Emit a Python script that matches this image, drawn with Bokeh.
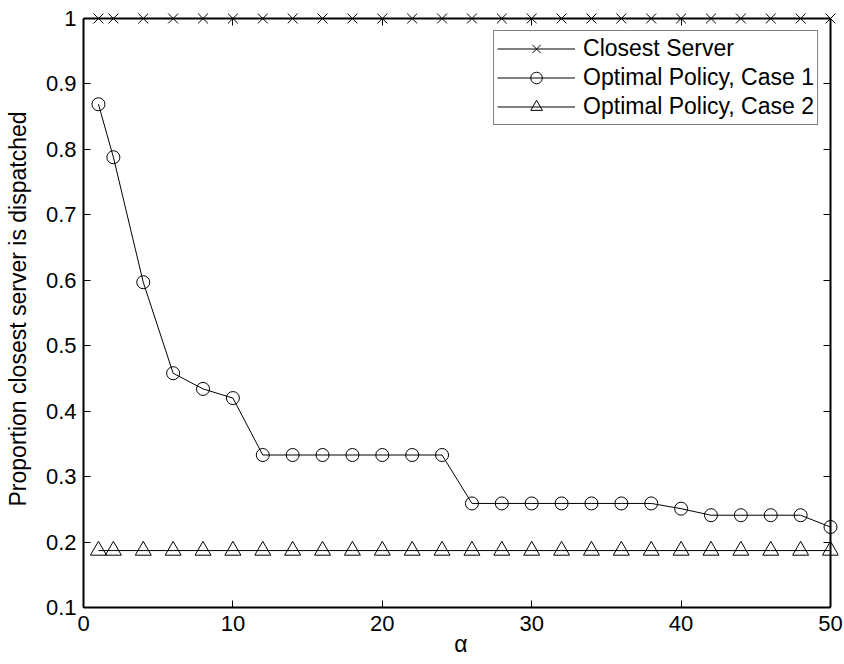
from bokeh.plotting import figure
from bokeh.models import Range1d, FixedTicker, LinearAxis
from bokeh.embed import file_html
from bokeh.resources import INLINE

alpha = [1, 2, 4, 6, 8, 10, 12, 14, 16, 18, 20, 22, 24, 26, 28, 30, 32, 34, 36, 38, 40, 42, 44, 46, 48, 50]
closest_server = [1.0, 1.0, 1.0, 1.0, 1.0, 1.0, 1.0, 1.0, 1.0, 1.0, 1.0, 1.0, 1.0,
                  1.0, 1.0, 1.0, 1.0, 1.0, 1.0, 1.0, 1.0, 1.0, 1.0, 1.0, 1.0, 1.0]
case1 = [0.869, 0.788, 0.597, 0.458, 0.434, 0.420, 0.333, 0.333, 0.333, 0.333, 0.333, 0.333, 0.333,
         0.259, 0.259, 0.259, 0.259, 0.259, 0.259, 0.259, 0.251, 0.241, 0.241, 0.241, 0.241, 0.223]
case2 = [0.187, 0.187, 0.187, 0.187, 0.187, 0.187, 0.187, 0.187, 0.187, 0.187, 0.187, 0.187, 0.187,
         0.187, 0.187, 0.187, 0.187, 0.187, 0.187, 0.187, 0.187, 0.187, 0.187, 0.187, 0.187, 0.187]
x_ticks = [0, 10, 20, 30, 40, 50]
y_ticks = [0.1, 0.2, 0.3, 0.4, 0.5, 0.6, 0.7, 0.8, 0.9, 1.0]
x_lim = (0, 50)
y_lim = (0.1, 1.0)

FONT = "Liberation Sans"
TICK_FS = "22px"
LABEL_FS = "23px"

# frame is extended by a few pixels past the top/right axes so edge markers are not clipped
PAD = 8
AX_LEFT, AX_RIGHT, AX_TOP, AX_BOTTOM = 83, 830, 18, 607
x_end = x_lim[0] + (x_lim[1] - x_lim[0]) * (AX_RIGHT + PAD - AX_LEFT) / (AX_RIGHT - AX_LEFT)
y_end = y_lim[0] + (y_lim[1] - y_lim[0]) * (AX_BOTTOM - AX_TOP + PAD) / (AX_BOTTOM - AX_TOP)

p = figure(width=844, height=664, output_backend="svg", toolbar_location=None,
           x_range=Range1d(x_lim[0], x_end), y_range=Range1d(y_lim[0], y_end),
           min_border_left=AX_LEFT, min_border_right=844 - AX_RIGHT - PAD,
           min_border_top=AX_TOP - PAD, min_border_bottom=664 - AX_BOTTOM,
           x_axis_label="α", y_axis_label="Proportion closest server is dispatched")
p.grid.visible = False
p.outline_line_color = None
p.background_fill_color = "white"
p.border_fill_color = "white"

def style(ax, ticks, bounds, labels=True):
    ax.ticker = FixedTicker(ticks=ticks)
    ax.bounds = bounds
    ax.major_tick_in = 7
    ax.major_tick_out = 0
    ax.minor_tick_line_color = None
    ax.axis_line_color = "black"
    ax.axis_line_width = 2
    ax.major_tick_line_color = "black"
    ax.major_tick_line_width = 1
    ax.major_label_text_font = FONT
    ax.axis_label_text_font = FONT
    ax.axis_label_text_font_style = "normal"
    ax.axis_label_text_font_size = LABEL_FS
    ax.axis_label_text_color = "black"
    if labels:
        ax.major_label_text_font_size = TICK_FS
        ax.major_label_text_color = "black"
    else:
        ax.major_label_text_font_size = "2px"
        ax.major_label_text_color = None
        ax.major_label_standoff = 0

style(p.xaxis[0], x_ticks, x_lim)
p.xaxis[0].major_label_standoff = 8
p.xaxis[0].axis_label_standoff = -3
style(p.yaxis[0], y_ticks, y_lim)
p.yaxis[0].major_label_standoff = 7
p.yaxis[0].axis_label_standoff = 12
p.yaxis[0].major_label_overrides = {1: "1"}

top = LinearAxis(fixed_location=y_lim[1])
style(top, x_ticks, x_lim, labels=False)
p.add_layout(top, "above")
right = LinearAxis(fixed_location=x_lim[1])
style(right, y_ticks, y_lim, labels=False)
p.add_layout(right, "right")

p.line(alpha, closest_server, line_color="black", line_width=1, legend_label="Closest Server")
p.scatter(alpha, closest_server, marker="x", size=14, line_color="black", line_width=1,
          legend_label="Closest Server")
p.line(alpha, case1, line_color="black", line_width=1, legend_label="Optimal Policy, Case 1")
p.scatter(alpha, case1, marker="circle", size=13, line_color="black", fill_color=None, line_width=1,
          legend_label="Optimal Policy, Case 1")
p.line(alpha, case2, line_color="black", line_width=1, legend_label="Optimal Policy, Case 2")
p.scatter(alpha, case2, marker="triangle", size=16, line_color="black", fill_color=None, line_width=1,
          legend_label="Optimal Policy, Case 2")

lg = p.legend[0]
lg.location = "top_right"
lg.border_line_color = "black"
lg.border_line_width = 1
lg.background_fill_color = "white"
lg.background_fill_alpha = 1
lg.label_text_font = FONT
lg.label_text_font_size = LABEL_FS
lg.label_text_color = "black"
lg.glyph_width = 78
lg.glyph_height = 29
lg.label_height = 29
lg.spacing = 0
lg.padding = 3
lg.margin = 12 + PAD
lg.label_standoff = 8

open("out.html", "w").write(file_html(p, INLINE))
